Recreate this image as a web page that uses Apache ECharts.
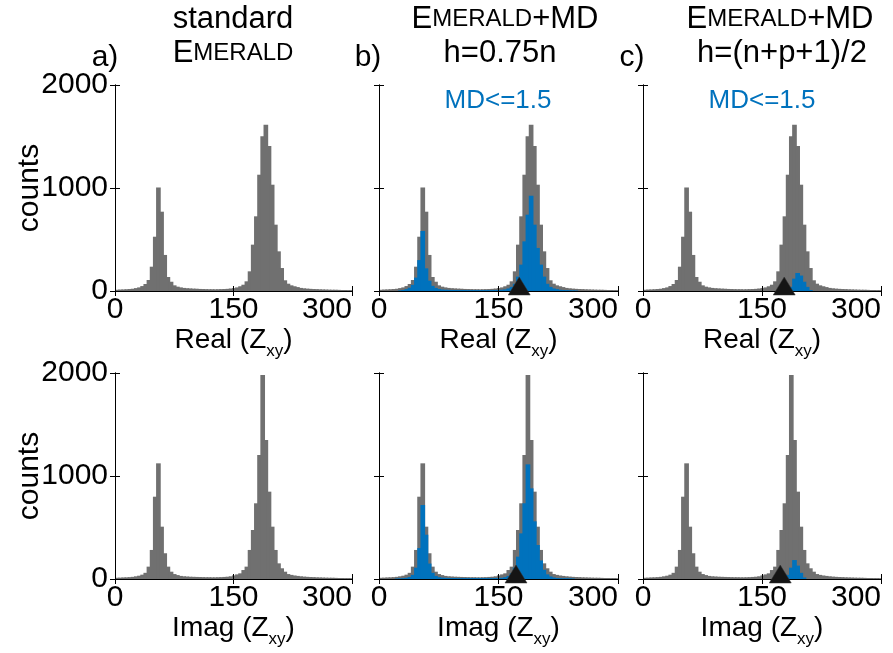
<!DOCTYPE html>
<html lang="en">
<head>
<meta charset="UTF-8">
<title>Zxy histograms</title>
<script src="https://cdn.jsdelivr.net/npm/echarts@6/dist/echarts.min.js"></script>
<style>
    html, body { margin: 0; padding: 0; background: #fff; }
    #chart { width: 893px; height: 653px; }
</style>
</head>
<body>
<div id="chart"></div>
<script>
// histogram bins: width 4, starting at 0 (75 bins up to 300)
var binWidth = 4;

// gray = all estimates (same in every column)
var realGray = [12,14,15,17,19,22,28,35,48,68, 107,236,527,1005,770,350,136,90,55,42,
    35,30,27,25,23,22,20,19,18,17, 17,16,17,18,19,21,24,28,35,46,
    61,94,191,450,725,1129,1502,1615,1408,1032, 644,385,223,104,71,55,46,38,30,26,
    23,21,19,18,16,15,14,13,12,12, 11,10,10,9,9];
var imagGray = [12,13,15,16,18,21,26,32,42,60, 120,282,799,1123,508,250,120,71,48,38,
    30,26,24,22,21,20,19,18,17,17, 16,16,17,18,20,22,26,35,45,55,
    87,120,282,476,735,1204,1980,1350,848,508, 282,152,104,71,48,40,34,30,26,23,
    21,19,18,16,15,14,13,12,12,11, 10,10,9,9,8];

// blue = estimates with MD<=1.5
var realBlueB = [0,0,0,0,0,0,6,10,18,32, 60,130,300,583,220,100,50,30,20,14,
    12,11,10,10,9,9,9,8,8,8, 8,8,8,8,8,9,9,10,12,15,
    25,40,70,140,256,482,741,925,644,418, 256,140,70,40,25,18,12,9,8,7,
    6,5,0,0,0,0,0,0,0,0, 0,0,0,0,0];
var imagBlueB = [0,0,0,0,0,5,6,8,12,20, 40,110,300,718,430,150,60,30,18,13,
    11,10,9,9,8,8,8,8,8,8, 8,8,8,8,8,8,9,10,12,18,
    30,55,110,217,443,735,1113,880,560,330, 180,90,45,25,15,10,8,7,7,6,
    5,0,0,0,0,0,0,0,0,0, 0,0,0,0,0];
var realBlueCStart = 46;
var realBlueC = [40,120,175,150,90,40,10];
var imagBlueCStart = 45;
var imagBlueC = [40,110,184,130,60,15];

// black triangles (true value) per row, columns b and c
var markerReal = [176, 178];
var markerImag = [172, 173];

var xMin = 0, xMax = 300, xStep = 150;
var yMin = 0, yMax = 2000, yStep = 1000;

var GRAY = '#707070';
var BLUE = '#0072bd';
var FONT = 'Liberation Sans, Arial, sans-serif';

var gridLeft = [115, 379, 643];
var gridWidth = [237, 239, 238];
var gridTop = [85, 373];
var gridHeight = 206;

function toBins(counts, start) {
    var out = [];
    start = start || 0;
    for (var i = 0; i < counts.length; i++) {
        if (counts[i] > 0) {
            var k = start + i;
            out.push([k * binWidth, (k + 1) * binWidth, counts[i]]);
        }
    }
    return out;
}

function histRender(color) {
    return function (params, api) {
        var p0 = api.coord([api.value(0), api.value(2)]);
        var p1 = api.coord([api.value(1), 0]);
        return {
            type: 'rect',
            shape: { x: p0[0], y: p0[1], width: p1[0] - p0[0] + 1.5, height: p1[1] - p0[1] },
            style: { fill: color }
        };
    };
}

var grids = [], xAxes = [], yAxes = [], series = [];
var rows = [
    { name: 'Real', gray: realGray, blue: [null, toBins(realBlueB), toBins(realBlueC, realBlueCStart)], marker: markerReal },
    { name: 'Imag', gray: imagGray, blue: [null, toBins(imagBlueB), toBins(imagBlueC, imagBlueCStart)], marker: markerImag }
];

for (var r = 0; r < 2; r++) {
    for (var c = 0; c < 3; c++) {
        var g = grids.length;
        grids.push({ left: gridLeft[c], top: gridTop[r], width: gridWidth[c], height: gridHeight });

        xAxes.push({
            gridIndex: g, type: 'value', min: xMin, max: xMax, interval: xStep, z: 5,
            axisLine: { show: true, lineStyle: { color: '#000', width: 1 } },
            axisTick: { inside: true, length: 5, lineStyle: { color: '#000' } },
            axisLabel: { fontSize: 30, color: '#000', fontFamily: FONT, margin: 4, alignMaxLabel: 'right' },
            splitLine: { show: false },
            name: '{n|' + rows[r].name + ' (Z}{s|xy}{n|)}',
            nameLocation: 'middle', nameGap: 32,
            nameTextStyle: {
                rich: {
                    n: { fontSize: 28, fontFamily: FONT, color: '#000', lineHeight: 34, verticalAlign: 'top' },
                    s: { fontSize: 17, fontFamily: FONT, color: '#000', lineHeight: 17, verticalAlign: 'bottom' }
                }
            }
        });
        xAxes.push({
            gridIndex: g, type: 'value', position: 'top', min: xMin, max: xMax, interval: xStep, z: 5,
            axisLine: { show: true, lineStyle: { color: '#000', width: 1 } },
            axisTick: { inside: true, length: 5, lineStyle: { color: '#000' } },
            axisLabel: { show: false }, splitLine: { show: false }
        });
        yAxes.push({
            gridIndex: g, type: 'value', min: yMin, max: yMax, interval: yStep, z: 5,
            axisLine: { show: true, lineStyle: { color: '#000', width: 1 } },
            axisTick: { inside: true, length: 5, lineStyle: { color: '#000' } },
            axisLabel: {
                show: c === 0, fontSize: 30, color: '#000', fontFamily: FONT, margin: 7,
                formatter: function (v) { return String(v); }
            },
            splitLine: { show: false }
        });
        yAxes.push({
            gridIndex: g, type: 'value', position: 'right', min: yMin, max: yMax, interval: yStep, z: 5,
            axisLine: { show: true, lineStyle: { color: '#000', width: 1 } },
            axisTick: { inside: true, length: 5, lineStyle: { color: '#000' } },
            axisLabel: { show: false }, splitLine: { show: false }
        });

        var xi = g * 2, yi = g * 2;
        series.push({
            type: 'custom', xAxisIndex: xi, yAxisIndex: yi, clip: true, z: 2,
            renderItem: histRender(GRAY), data: toBins(rows[r].gray)
        });
        if (c > 0) {
            series.push({
                type: 'custom', xAxisIndex: xi, yAxisIndex: yi, clip: true, z: 3,
                renderItem: histRender(BLUE), data: rows[r].blue[c]
            });
            series.push({
                type: 'scatter', xAxisIndex: xi, yAxisIndex: yi, z: 10,
                symbol: 'triangle', symbolSize: [22, 18], symbolOffset: [0, -5],
                itemStyle: { color: '#151515', opacity: 1, borderColor: '#333', borderWidth: 0.5 },
                data: [[rows[r].marker[c - 1], 0]]
            });
        }
    }
}

function txt(x, y, text, size, color, rich) {
    return {
        type: 'text', x: x, y: y, z: 20,
        style: {
            text: text, fontSize: size, fontFamily: FONT, fill: color || '#000',
            align: 'center', verticalAlign: 'middle', rich: rich
        }
    };
}
var capsRich = {
    b: { fontSize: 31, fontFamily: FONT, fill: '#000' },
    m: { fontSize: 24, fontFamily: FONT, fill: '#000' }
};

var countsTop = txt(30, 188, 'counts', 30);
countsTop.rotation = Math.PI / 2;
var countsBottom = txt(30, 476, 'counts', 30);
countsBottom.rotation = Math.PI / 2;

var graphics = [
    txt(233, 19, 'standard', 31),
    txt(233, 53, '{b|E}{m|MERALD}', 31, '#000', capsRich),
    txt(505, 19, '{b|E}{m|MERALD}{b|+MD}', 31, '#000', capsRich),
    txt(500, 53, 'h=0.75n', 31),
    txt(780, 19, '{b|E}{m|MERALD}{b|+MD}', 31, '#000', capsRich),
    txt(782, 53, 'h=(n+p+1)/2', 31),
    txt(105, 58, 'a)', 30),
    txt(368, 58, 'b)', 30),
    txt(632, 58, 'c)', 30),
    txt(498, 101, 'MD<=1.5', 26, BLUE),
    txt(762, 101, 'MD<=1.5', 26, BLUE),
    countsTop,
    countsBottom
];

var chart = echarts.init(document.getElementById('chart'));
chart.setOption({
    animation: false,
    backgroundColor: '#fff',
    grid: grids,
    xAxis: xAxes,
    yAxis: yAxes,
    series: series,
    graphic: graphics
});
</script>
</body>
</html>
